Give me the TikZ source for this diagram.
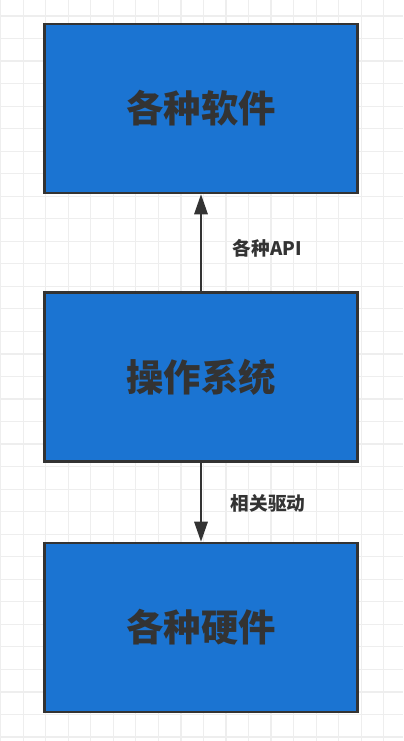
\documentclass[tikz,border=0pt]{standalone}
\usepackage{fontspec}
\newfontfamily\cjk{Noto Sans CJK SC}
\usetikzlibrary{arrows.meta}
\definecolor{boxblue}{RGB}{27,116,210}
\definecolor{edge}{RGB}{51,51,51}
\definecolor{gridc}{RGB}{238,238,238}
\tikzset{
  layer/.style={draw=edge, line width=1.9pt, fill=boxblue, minimum width=313*0.75pt, minimum height=169*0.75pt, inner sep=0pt, font=\cjk\bfseries\fontsize{28}{30}\selectfont, text=edge},
  conn/.style={draw=edge, line width=1.5pt, -{Triangle[length=15pt, width=10pt]}},
  lbl/.style={font=\cjk\bfseries\fontsize{14}{16}\selectfont, text=edge, inner sep=0pt}
}
\begin{document}
\begin{tikzpicture}[x=0.75pt, y=-0.75pt]
\useasboundingbox (0,0) rectangle (403,741);
\fill[white] (0,0) rectangle (403,741);
\foreach \i in {0,...,17} { \draw[gridc, line width=0.9pt] (0.7+22.53*\i,0) -- (0.7+22.53*\i,741); }
\foreach \j in {0,...,33} { \draw[gridc, line width=0.9pt] (0,16+22.53*\j-22.53) -- (403,16+22.53*\j-22.53); }
\node[layer] (sw) at (201,108.5) {各种软件};
\node[layer] (os) at (201,377) {操作系统};
\node[layer] (hw) at (201,627.5) {各种硬件};
\draw[conn] (os.north) -- (sw.south);
\draw[conn] (os.south) -- (hw.north);
\node[lbl] (api) at (267.5,248) {各种API};
\node[lbl] (drv) at (268,503) {相关驱动};
\end{tikzpicture}
\end{document}
